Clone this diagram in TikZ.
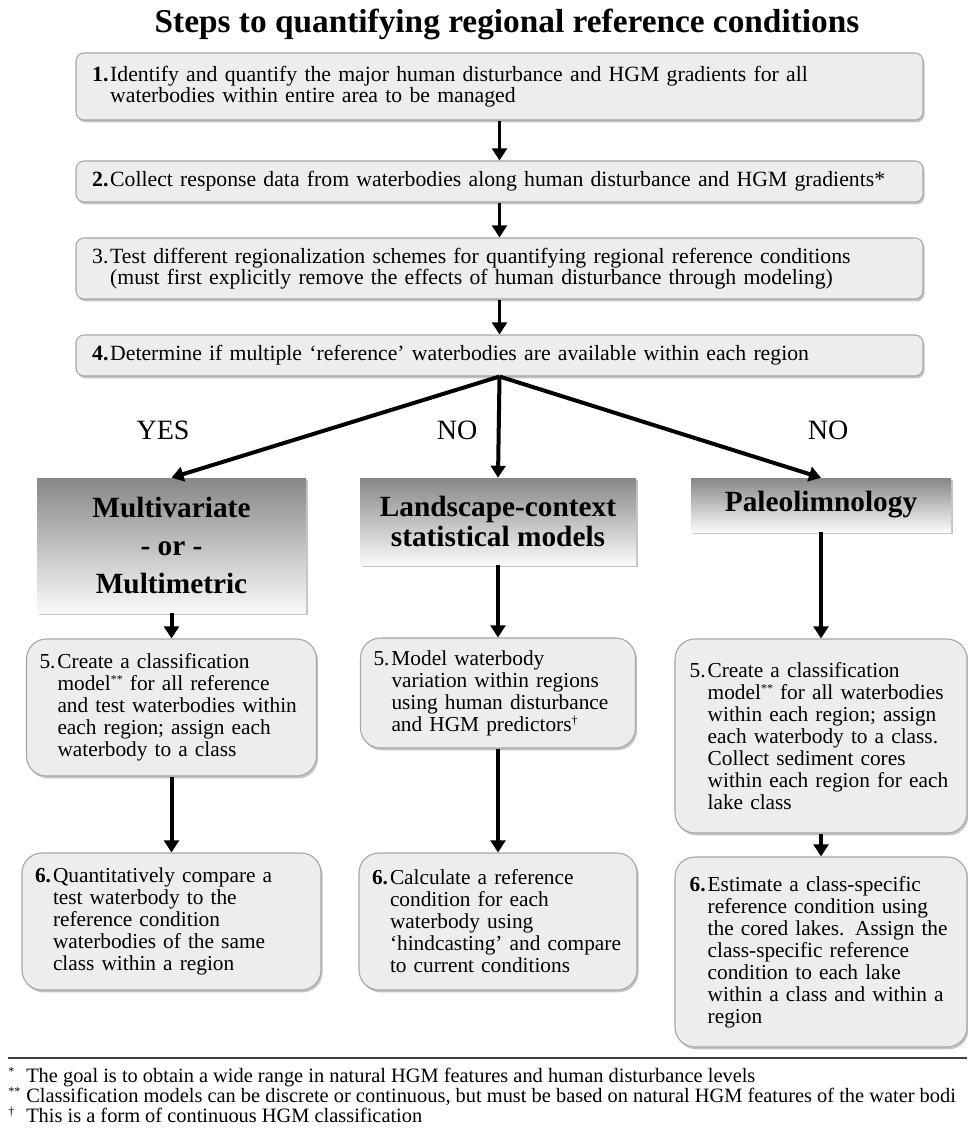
\documentclass[tikz,border=0pt]{standalone}
\usepackage{fontspec}
\setmainfont{Liberation Serif}
\usetikzlibrary{arrows.meta,shadows}

% number in its own column, the rest of the lines indented below it
\newcommand\stepno[2]{\makebox[13.5pt][l]{#1}\parbox[t]{\dimexpr\hsize-13.5pt\relax}{#2}}
\newcommand\sups[1]{\raisebox{0.32em}{\fontsize{9}{9}\selectfont #1}}

\begin{document}
\begin{tikzpicture}[
        x=0.75pt, y=-0.75pt,
        >={Triangle[length=9pt,width=11pt]},
        shade/.style={drop shadow={shadow xshift=1.2pt, shadow yshift=-1.8pt, opacity=0.45}},
        stepbox/.style={rectangle, rounded corners=6pt, draw=black!35, fill=black!7, line width=0.8pt, shade,
          minimum width=635.25pt, text width=611pt, inner sep=0pt, align=left,
          font=\fontsize{16.3}{15.75}\selectfont},
        method/.style={rectangle, top color=black!47, bottom color=black!2, shade, inner sep=0pt,
          align=center, font=\bfseries\fontsize{22}{22.5}\selectfont},
        casebox/.style={rectangle, rounded corners=15pt, draw=black!35, fill=black!7, line width=0.8pt, shade,
          inner sep=0pt, align=left, font=\fontsize{16}{16.5}\selectfont},
        answer/.style={font=\fontsize{21}{21}\selectfont},
        note/.style={anchor=base west, inner sep=0pt, font=\fontsize{15.3}{16}\selectfont},
        flow/.style={->, line width=2.4pt},
        branch/.style={->, line width=3pt}
        ]
      \path[use as bounding box, fill=white] (0,0) rectangle (967,1137);

      \node[font=\bfseries\fontsize{25}{28}\selectfont, anchor=base] (title) at (507,33)
        {Steps to quantifying regional reference conditions};

      % steps 1 to 4
      \node[stepbox, minimum height=50.25pt] (s1) at (499.5,86.5)
        {\stepno{\textbf{1.}}{Identify and quantify the major human disturbance and HGM gradients for all\\
         waterbodies within entire area to be managed}};
      \node[stepbox, minimum height=30.75pt] (s2) at (499.5,181.5)
        {\stepno{\textbf{2.}}{Collect response data from waterbodies along human disturbance and HGM gradients*}};
      \node[stepbox, minimum height=45.75pt] (s3) at (499.5,268.5)
        {\stepno{3.}{Test different regionalization schemes for quantifying regional reference conditions\\
         (must first explicitly remove the effects of human disturbance through modeling)}};
      \node[stepbox, minimum height=30.75pt] (s4) at (499.5,355.5)
        {\stepno{\textbf{4.}}{Determine if multiple ‘reference’ waterbodies are available within each region}};

      \node[answer] (yes) at (163,430) {YES};
      \node[answer] (no1) at (457,430) {NO};
      \node[answer] (no2) at (828,430) {NO};

      % the three approaches
      \node[method, minimum width=201.75pt, minimum height=101.25pt,
        font=\bfseries\fontsize{22}{28.5}\selectfont] (multi) at (171.5,545.5)
        {Multivariate\\- or -\\Multimetric};
      \node[method, minimum width=207pt, minimum height=65.25pt] (land) at (498,521.5)
        {Landscape-context\\statistical models};
      \node[method, minimum width=195pt, minimum height=40.5pt] (paleo) at (821,505)
        {Paleolimnology};

      % step 5
      \node[casebox, minimum width=217.5pt, text width=198pt, minimum height=102.75pt] (m5) at (171.5,707.5)
        {\stepno{5.}{Create a classification\\
         model\sups{**} for all reference\\
         and test waterbodies within\\
         each region;  assign  each\\
         waterbody to a class}};
      \node[casebox, minimum width=206.25pt, text width=186.75pt, minimum height=82.5pt] (l5) at (498,693)
        {\stepno{5.}{Model waterbody\\
         variation within regions\\
         using human disturbance\\
         and HGM predictors\sups{†}}};
      \node[casebox, minimum width=219pt, text width=197pt, minimum height=145.5pt] (p5) at (821,736)
        {\stepno{5.}{Create a classification\\
         model\sups{**} for all waterbodies\\
         within each region;  assign\\
         each waterbody to a class.\\
         Collect sediment cores\\
         within each region for each\\
         lake class}};

      % step 6
      \node[casebox, minimum width=224.25pt, text width=204.75pt, minimum height=102.75pt] (m6) at (171.5,921.5)
        {\stepno{\textbf{6.}}{Quantitatively compare a\\
         test waterbody to the\\
         reference condition\\
         waterbodies of the same\\
         class within a region}};
      \node[casebox, minimum width=208.5pt, text width=189pt, minimum height=102.75pt] (l6) at (498,921.5)
        {\stepno{\textbf{6.}}{Calculate a reference\\
         condition for each\\
         waterbody using\\
         ‘hindcasting’ and compare\\
         to current conditions}};
      \node[casebox, minimum width=219pt, text width=197pt, minimum height=142.5pt] (p6) at (821,952)
        {\stepno{\textbf{6.}}{Estimate a class-specific\\
         reference condition using\\
         the cored lakes. Assign the\\
         class-specific reference\\
         condition to each lake\\
         within a class and within a\\
         region}};

      \draw[flow] (s1.south) -- (s2.north);
      \draw[flow] (s2.south) -- (s3.north);
      \draw[flow] (s3.south) -- (s4.north);

      \draw[branch] (s4.south) -- (multi.north);
      \draw[branch] (s4.south) -- (land.north);
      \draw[branch] (s4.south) -- (paleo.north);

      \draw[branch] (multi.south) -- (m5.north);
      \draw[branch] (land.south) -- (l5.north);
      \draw[branch] (paleo.south) -- (p5.north);
      \draw[branch] (m5.south) -- (m6.north);
      \draw[branch] (l5.south) -- (l6.north);
      \draw[branch] (p5.south) -- (p6.north);

      % footnotes
      \draw[line width=1.2pt, black!75] (8,1058) -- (967,1058);
      \node[note] (fn1) at (8,1082)
        {\makebox[13.5pt][l]{\sups{*}}The goal is to obtain a wide range in natural HGM features and human disturbance levels};
      \node[note] (fn2) at (8,1102)
        {\makebox[13.5pt][l]{\sups{**}}Classification models can be discrete or continuous, but must be based on natural HGM features of the water bodi};
      \node[note] (fn3) at (8,1122)
        {\makebox[13.5pt][l]{\sups{†}}This is a form of continuous HGM classification};

    \end{tikzpicture}
\end{document}
